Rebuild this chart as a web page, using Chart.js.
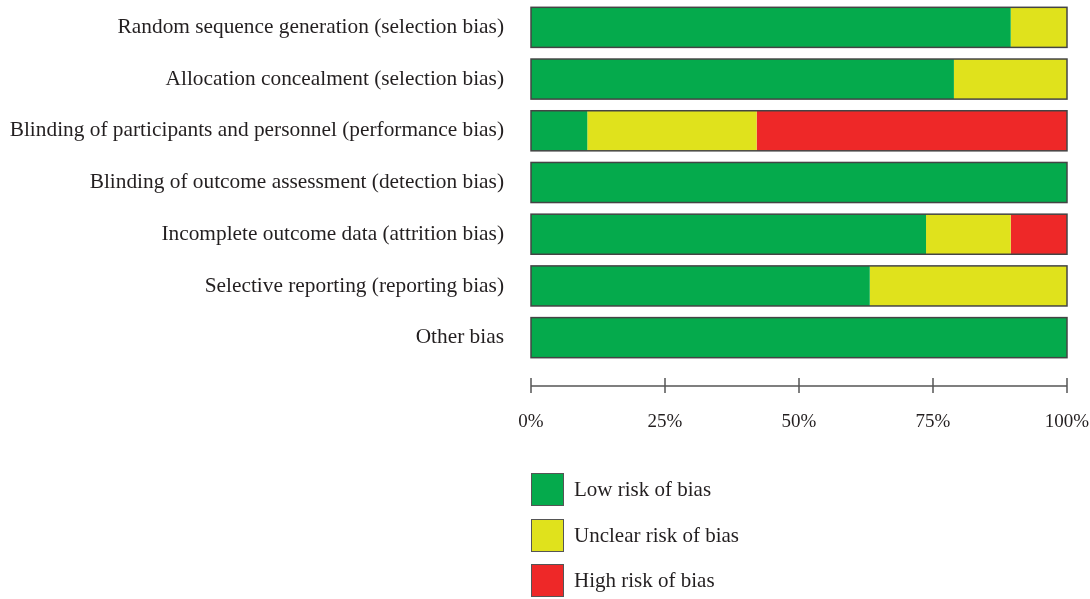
<!DOCTYPE html>
<html>
<head>
<meta charset="utf-8">
<script src="https://cdn.jsdelivr.net/npm/chart.js@4.4.1/dist/chart.umd.min.js"></script>
<style>
  body { margin: 0; background: #fff; }
  #wrap { position: relative; width: 1090px; height: 599px; }
  .legend { position: absolute; left: 531px; font-family: "Liberation Serif", serif; font-size: 21px; color: #231f20; }
  .legend .box { position: absolute; left: 0; top: 0; width: 31px; height: 31px; border: 1.5px solid #555; }
  .legend span { position: absolute; left: 43px; top: 4px; white-space: nowrap; }
</style>
</head>
<body>
<div id="wrap">
  <canvas id="myChart" width="1090" height="599"></canvas>
  <div class="legend" style="top:473px"><div class="box" style="background:#05aa4c"></div><span>Low risk of bias</span></div>
  <div class="legend" style="top:519px"><div class="box" style="background:#e0e21c"></div><span>Unclear risk of bias</span></div>
  <div class="legend" style="top:564px"><div class="box" style="background:#ee2828"></div><span>High risk of bias</span></div>
</div>
<script>
const categories = [
  "Random sequence generation (selection bias)",
  "Allocation concealment (selection bias)",
  "Blinding of participants and personnel (performance bias)",
  "Blinding of outcome assessment (detection bias)",
  "Incomplete outcome data (attrition bias)",
  "Selective reporting (reporting bias)",
  "Other bias",
];
const lowRisk = [89.5, 78.9, 10.5, 100, 73.7, 63.2, 100];
const unclearRisk = [10.5, 21.1, 31.6, 0, 15.8, 36.8, 0];
const highRisk = [0, 0, 57.9, 0, 10.5, 0, 0];
const xTicks = [0, 25, 50, 75, 100];

const GREEN = "#05aa4c";
const YELLOW = "#e0e21c";
const RED = "#ee2828";

// outline around each whole bar
const barOutline = {
  id: "barOutline",
  afterDatasetsDraw(chart) {
    const ctx = chart.ctx;
    const x = chart.scales.x;
    const meta = chart.getDatasetMeta(0);
    ctx.save();
    ctx.strokeStyle = "#444";
    ctx.lineWidth = 1.5;
    meta.data.forEach((bar) => {
      const h = bar.height;
      const x0 = x.getPixelForValue(0);
      const x1 = x.getPixelForValue(100);
      ctx.strokeRect(x0, bar.y - h / 2, x1 - x0, h);
    });
    ctx.restore();
  },
};

// x axis line drawn a bit below the bars
const bottomAxis = {
  id: "bottomAxis",
  afterDraw(chart) {
    const ctx = chart.ctx;
    const x = chart.scales.x;
    const y = chart.chartArea.bottom + 22.5;
    ctx.save();
    ctx.strokeStyle = "#555";
    ctx.lineWidth = 1.5;
    ctx.beginPath();
    ctx.moveTo(x.getPixelForValue(0), y);
    ctx.lineTo(x.getPixelForValue(100), y);
    xTicks.forEach((t) => {
      const px = x.getPixelForValue(t);
      ctx.moveTo(px, y - 8);
      ctx.lineTo(px, y + 7);
    });
    ctx.stroke();
    ctx.restore();
  },
};

const ctx = document.getElementById("myChart").getContext("2d");
const myChart = new Chart(ctx, {
  type: "bar",
  data: {
    labels: categories,
    datasets: [
      { label: "Low risk of bias", data: lowRisk, backgroundColor: GREEN },
      { label: "Unclear risk of bias", data: unclearRisk, backgroundColor: YELLOW },
      { label: "High risk of bias", data: highRisk, backgroundColor: RED },
    ],
  },
  options: {
    indexAxis: "y",
    responsive: false,
    animation: false,
    layout: { padding: { top: 1.5, right: 23, bottom: 0, left: 0 } },
    datasets: {
      bar: { barPercentage: 0.775, categoryPercentage: 1, borderWidth: 0 },
    },
    plugins: {
      legend: { display: false },
      tooltip: { enabled: false },
    },
    scales: {
      x: {
        stacked: true,
        min: 0,
        max: 100,
        afterBuildTicks: (s) => {
          s.ticks = xTicks.map((v) => ({ value: v }));
        },
        afterFit: (s) => {
          s.height = 235.5;
          s.paddingLeft = 0;
          s.paddingRight = 0;
        },
        grid: { display: false, drawTicks: false },
        border: { display: false },
        ticks: {
          padding: 47,
          color: "#231f20",
          font: { family: "Liberation Serif", size: 19 },
          callback: (v) => v + "%",
        },
      },
      y: {
        stacked: true,
        afterFit: (s) => {
          s.width = 531;
          s.paddingTop = 0;
          s.paddingBottom = 0;
        },
        grid: { display: false, drawTicks: false },
        border: { display: false },
        ticks: {
          padding: 27,
          color: "#231f20",
          font: { family: "Liberation Serif", size: 21.35 },
        },
      },
    },
  },
  plugins: [barOutline, bottomAxis],
});
</script>
</body>
</html>
